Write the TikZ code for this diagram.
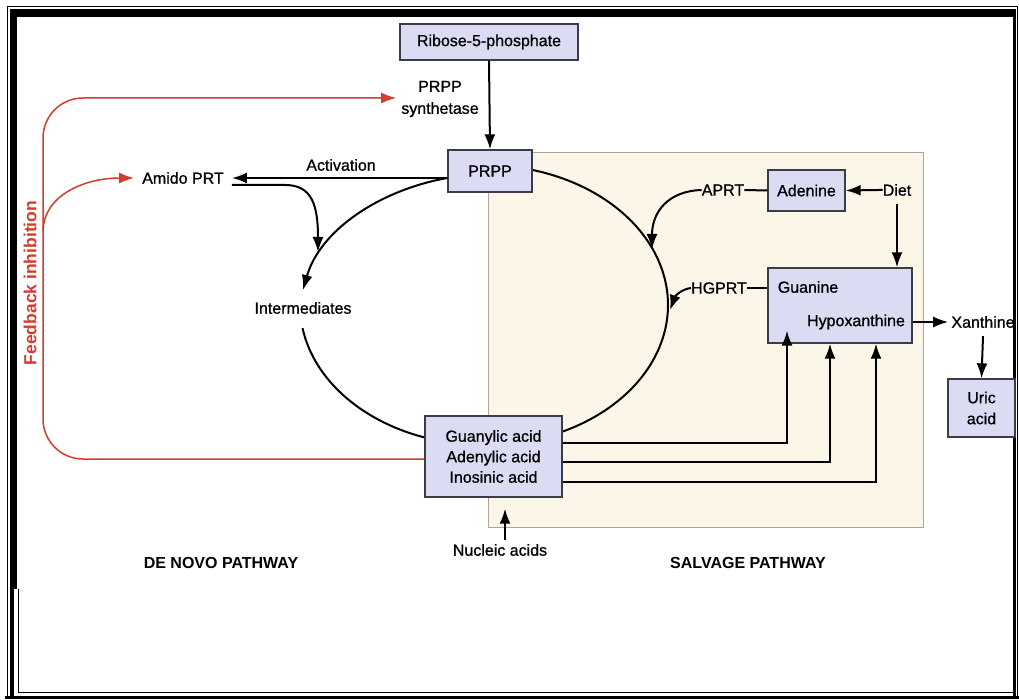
\documentclass[tikz,border=0pt]{standalone}
\usepackage{fontspec}
\setmainfont{Liberation Sans}
\newfontfamily\medfont{Liberation Sans}[RawFeature={embolden=0.8}]
\usetikzlibrary{arrows.meta,calc}
\definecolor{boxfill}{RGB}{219,219,244}
\definecolor{boxline}{RGB}{60,60,72}
\definecolor{cream}{RGB}{251,246,231}
\definecolor{creamline}{RGB}{175,165,150}
\definecolor{fbred}{RGB}{212,60,46}
\begin{document}
\begin{tikzpicture}[x=1pt,y=-1pt,
  every node/.style={font=\medfont\fontsize{16}{20}\selectfont, inner sep=0pt, align=center},
  box/.style={draw=boxline, fill=boxfill, line width=1.3pt},
  arr/.style={line width=2pt, -{Latex[length=15pt,width=11pt]}},
  ln/.style={line width=2pt},
  redarr/.style={draw=fbred, line width=1.5pt, -{Latex[length=15pt,width=11pt]}},
  bold/.style={font=\fontsize{16}{20}\selectfont\bfseries},
]
\useasboundingbox (0,0) rectangle (1019,700);
% frame
\fill[white] (0,0) rectangle (1019,700);
\fill[black] (10,9) rectangle (17,589);
\fill[black] (10,589) rectangle (14,699);
\fill[black] (10,9) rectangle (1016,17);
\fill[black] (1013,9) rectangle (1016,699);
\fill[black] (5,696) rectangle (1019,699);
\draw[line width=1pt] (7,699) -- (7,6.5) -- (1017.5,6.5) -- (1017.5,699);
\draw[line width=1pt] (18.5,589) -- (18.5,692) -- (1013,692);

% salvage area
\filldraw[fill=cream, draw=creamline, line width=0.8pt] (488,152) rectangle (923,527);

% big cycle arcs
\draw[ln] plot[domain=-75:65, samples=80, smooth] ({484+184*cos(\x)}, {305+140*sin(\x)});
\draw[ln] plot[domain=109:170.5, samples=50, smooth] ({484+184*cos(\x)}, {305+140*sin(\x)});

% boxes
\node[box, minimum width=178pt, minimum height=36pt] (rib) at (489,42) {Ribose-5-phosphate};
\node[box, minimum width=84pt, minimum height=42pt] (prpp) at (490,171) {PRPP};
\node[box, minimum width=77pt, minimum height=41pt] (aden) at (806.5,190.5) {Adenine};
\node[box, minimum width=144pt, minimum height=75pt] (gbox) at (840,305.5) {};
\node[box, minimum width=67pt, minimum height=58pt, font=\medfont\fontsize{16}{21}\selectfont] (uric) at (981.5,408) {Uric\\acid};
\node[box, minimum width=137pt, minimum height=81pt, font=\medfont\fontsize{16}{20.5}\selectfont] (acid) at (493.5,456.5) {Guanylic acid\\Adenylic acid\\Inosinic acid};

% labels
\node (gua) at (808,287) {Guanine};
\node (hypo) at (856,322) {Hypoxanthine};
\node[font=\medfont\fontsize{16}{22}\selectfont] (synth) at (440,99) {PRPP\\synthetase};
\node (act) at (341,165) {Activation};
\node[inner xsep=8pt] (amido) at (183,178) {Amido PRT};
\node (inter) at (303,308) {Intermediates};
\node (aprt) at (723,190) {APRT};
\node (diet) at (897,190) {Diet};
\node (hgprt) at (719,288) {HGPRT};
\node (xan) at (983,322) {Xanthine};
\node (nuc) at (500,550) {Nucleic acids};
\node[bold] (denovo) at (221,563) {DE NOVO PATHWAY};
\node[bold] (salv) at (748,563) {SALVAGE PATHWAY};
\node[font=\fontsize{17.5}{20}\selectfont\bfseries, text=fbred, rotate=90] (fb) at (30,283) {Feedback inhibition};

% coordinates
\coordinate (i1) at (318,252);
\coordinate (i2) at (303,290);

% black connectors
\draw[arr] (rib.south) -- (prpp.north);
\draw[arr] ($(prpp.west)+(0,7)$) -- ($(amido.east)$);
\draw[arr] ($(amido.east)+(0,7)$) -- (285,185) .. controls (312,185) and (318,205) .. (i1);
\draw[arr] ($(prpp.west)+(0,7)$) .. controls (380,190) and (320,230) .. (i2);
\draw[ln] (aprt.east) -- (aden.west);
\draw[arr] (diet.west) -- ++(-4,0) -- ($(aden.east)+(0,0)$);
\draw[arr] ($(diet.south)+(0,8)$) -- (gbox.north -| diet);
\draw[arr] (aprt.west) .. controls (668,191) and (652,212) .. (652,249);
\draw[ln] (hgprt.east) -- (gbox.west |- hgprt);
\draw[arr] (hgprt.west) .. controls (682,289) and (675,296) .. (670,310);
\draw[arr] (gbox.east |- hypo) -- ($(xan.west)+(-3,0)$);
\draw[arr] ($(xan.south)+(0,8)$) -- (uric.north);
\draw[arr] ($(acid.east)+(0,-13.5)$) -| ($(gbox.south)+(-53,-13)$);
\draw[arr] ($(acid.east)+(0,5.5)$) -| ($(gbox.south)+(-10,0)$);
\draw[arr] ($(acid.east)+(0,25.5)$) -| ($(gbox.south)+(36,0)$);
\draw[arr] ($(nuc.north)+(5,-4)$) -- ($(acid.south)+(11.5,11)$);

% red feedback
\draw[redarr, rounded corners=40pt] ($(acid.west)+(0,2.5)$) -- (43,459) -- (43,98) -- ($(synth.west)+(-5,-1)$);
\draw[redarr] (43,232) .. controls (43,195) and (85,178) .. (amido.west);
\end{tikzpicture}
\end{document}
